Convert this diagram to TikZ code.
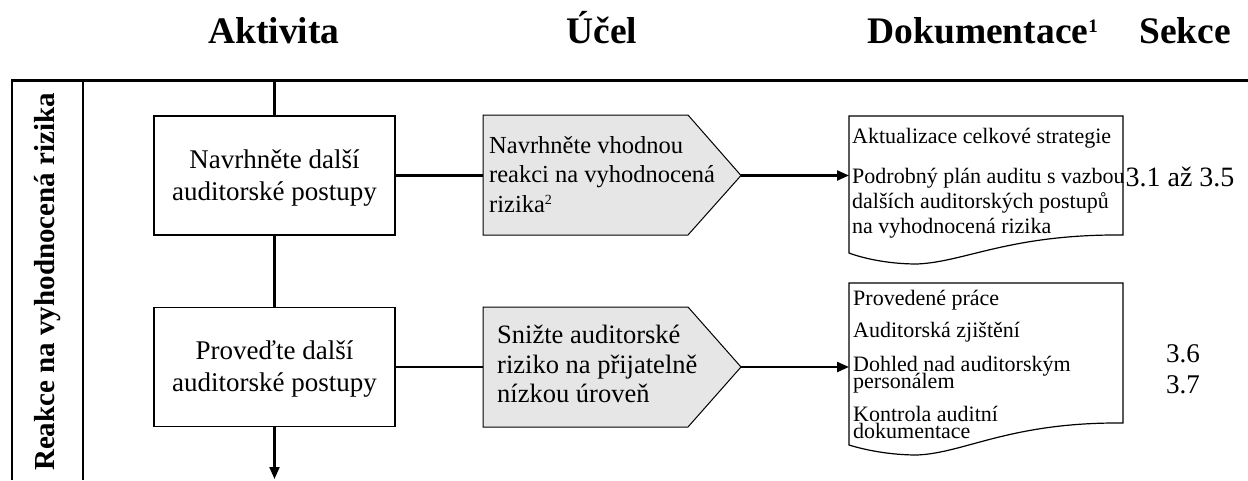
\documentclass[tikz,border=0pt]{standalone}
\usepackage{fontspec}
\setmainfont{Liberation Serif}
\usetikzlibrary{arrows.meta}
\definecolor{pentfill}{RGB}{230,230,230}
% two tightly set lines; the box baseline is that of the first line
\newcommand{\dlines}[2]{\vtop{\baselineskip=17pt\lineskiplimit=-100pt\hbox{#1}\hbox{#2}}}
\tikzset{
  hdr/.style={font=\fontsize{37.5}{40}\selectfont\bfseries, anchor=base},
  actbox/.style={draw, line width=1.4pt, minimum width=241pt, minimum height=119pt, inner sep=0pt},
  boxtxt/.style={font=\fontsize{27}{30}\selectfont, anchor=base},
  pentA/.style={font=\fontsize{24.5}{28}\selectfont, anchor=base west, inner sep=0pt},
  pentB/.style={font=\fontsize{26.5}{30}\selectfont, anchor=base west, inner sep=0pt},
  doctxt/.style={font=\fontsize{22}{24}\selectfont, anchor=base west, inner sep=0pt},
  sectxt/.style={font=\fontsize{28}{30}\selectfont, anchor=base},
  pent/.style={draw, line width=1pt, fill=pentfill},
  docshape/.style={draw, line width=1.2pt, fill=white},
  conn/.style={line width=2.2pt},
  arr/.style={line width=2.2pt, -{Triangle[length=12pt,width=10pt]}},
}
\begin{document}
\begin{tikzpicture}[x=1pt,y=-1pt]
\useasboundingbox (0,0) rectangle (1248,480);

% column headings
\node[hdr] (hA) at (274,43) {Aktivita};
\node[hdr] (hU) at (602,43) {Účel};
\node[hdr, anchor=base west] (hD) at (864,43) {Dokumentace\raisebox{11pt}{\fontsize{19}{20}\selectfont 1}};
\node[hdr] (hS) at (1185,43) {Sekce};

% swimlane frame
\draw[line width=1.5pt] (12,480) -- (12,80);
\draw[line width=3pt] (11.25,80) -- (1248,80);
\draw[line width=2.2pt] (83,80) -- (83,480);
\node[rotate=90, font=\fontsize{29}{32}\selectfont\bfseries] (lane) at (48,282) {Reakce na vyhodnocená rizika};

% activity boxes
\node[actbox] (b1) at (274.5,175.5) {};
\node[boxtxt] (b1a) at (274.5,168) {Navrhněte další};
\node[boxtxt] (b1b) at (274.5,200) {auditorské postupy};
\node[actbox] (b2) at (274.5,367) {};
\node[boxtxt] (b2a) at (274.5,359) {Proveďte další};
\node[boxtxt] (b2b) at (274.5,391) {auditorské postupy};

\coordinate (top) at (274.5,80);
\coordinate (bot) at (274.5,479);
\draw[conn] (top) -- (b1.north);
\draw[conn] (b1.south) -- (b2.north);
\draw[arr] (b2.south) -- (bot);

% purpose pentagons
\coordinate (p1w) at (483,175.5);
\coordinate (p1e) at (741,175.5);
\draw[pent] (483,115) -- (688,115) -- (p1e) -- (688,235) -- (483,235) -- cycle;
\node[pentA] (p1a) at (489,153) {Navrhněte vhodnou};
\node[pentA] (p1b) at (489,182) {reakci na vyhodnocená};
\node[pentA] (p1c) at (489,212) {rizika\raisebox{8pt}{\fontsize{14}{14}\selectfont 2}};

\coordinate (p2w) at (483,367);
\coordinate (p2e) at (741,367);
\draw[pent] (483,307) -- (688,307) -- (p2e) -- (688,427) -- (483,427) -- cycle;
\node[pentB] (p2a) at (497,343) {Snižte auditorské};
\node[pentB] (p2b) at (497,373) {riziko na přijatelně};
\node[pentB] (p2c) at (497,402) {nízkou úroveň};

\draw[conn] (b1.east |- p1w) -- (p1w);
\draw[conn] (b2.east |- p2w) -- (p2w);

% documentation shapes
\coordinate (d1w) at (849,175.5);
\draw[docshape] (849,116) -- (1123,116) -- (1123,235)
  .. controls (1010,234) and (965,262) .. (917,264)
  .. controls (890,264) and (865,259) .. (849,253) -- cycle;
\node[doctxt] (d1a) at (852,143) {Aktualizace celkové strategie};
\node[doctxt] (d1b) at (852,183) {Podrobný plán auditu s vazbou};
\node[doctxt] (d1c) at (852,208) {dalších auditorských postupů};
\node[doctxt] (d1d) at (852,233) {na vyhodnocená rizika};

\coordinate (d2w) at (849,367);
\draw[docshape] (849,283) -- (1123,283) -- (1123,423)
  .. controls (1010,422) and (965,453) .. (917,455)
  .. controls (890,455) and (865,450) .. (849,445) -- cycle;
\node[doctxt] (d2a) at (853,305) {Provedené práce};
\node[doctxt] (d2b) at (853,337) {Auditorská zjištění};
\node[doctxt] (d2c) at (853,371) {\dlines{Dohled nad auditorským}{personálem}};
\node[doctxt] (d2e) at (853,421) {\dlines{Kontrola auditní}{dokumentace}};

\draw[arr] (p1e) -- (d1w);
\draw[arr] (p2e) -- (d2w);

% section references
\node[sectxt] (s1) at (1180,186) {3.1 až 3.5};
\node[sectxt, font=\fontsize{27}{30}\selectfont] (s2) at (1183,362) {3.6};
\node[sectxt, font=\fontsize{27}{30}\selectfont] (s3) at (1183,393) {3.7};
\end{tikzpicture}
\end{document}
